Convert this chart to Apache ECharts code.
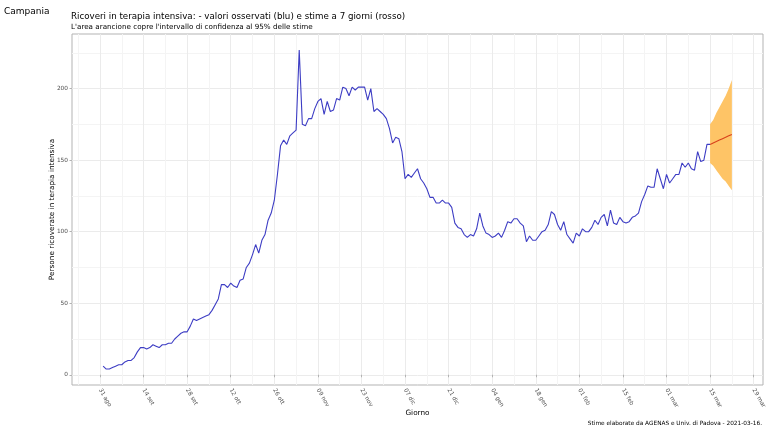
<!DOCTYPE html>
<html>
<head>
<meta charset="utf-8">
<title>Campania - ricoveri in terapia intensiva</title>
<script src="https://cdn.jsdelivr.net/npm/echarts@6/dist/echarts.min.js"></script>
<style>
  html, body { margin: 0; padding: 0; background: #fff; }
  #chart { width: 767px; height: 431px; }
</style>
</head>
<body>
<div id="chart"></div>
<script>
// valori osservati, un valore al giorno dal 1 settembre 2020 al 15 marzo 2021
var inizioOsservati = '2020-09-01';
var osservati = [
  6, 4, 4, 5, 6, 7, 7, 9, 10, 10,
  12, 16, 19, 19, 18, 19, 21, 20, 19, 21,
  21, 22, 22, 25, 27, 29, 30, 30, 34, 39,
  38, 39, 40, 41, 42, 45, 49, 53, 63, 63,
  61, 64, 62, 61, 66, 67, 75, 78, 84, 91,
  85, 94, 98, 108, 113, 122, 140, 160, 164, 161,
  167, 169, 171, 227, 175, 174, 179, 179, 186, 191,
  193, 182, 191, 184, 185, 193, 192, 201, 200, 195,
  201, 199, 201, 201, 201, 192, 200, 184, 186, 184,
  182, 179, 172, 162, 166, 165, 156, 137, 140, 138,
  141, 144, 137, 134, 130, 124, 124, 120, 120, 122,
  120, 120, 117, 106, 103, 102, 98, 96, 98, 97,
  102, 113, 104, 99, 98, 96, 97, 99, 96, 101,
  107, 106, 109, 109, 106, 104, 93, 97, 94, 94,
  97, 100, 101, 105, 114, 112, 105, 101, 107, 98,
  95, 92, 99, 97, 102, 100, 100, 103, 108, 105,
  110, 112, 104, 115, 106, 105, 110, 107, 106, 107,
  110, 111, 113, 121, 126, 132, 131, 131, 144, 137,
  130, 140, 134, 137, 140, 140, 148, 145, 148, 144,
  143, 156, 149, 150, 161, 161
];

// stime a 7 giorni e intervallo di confidenza al 95%
var inizioStime = '2021-03-15';
var stime = [161, 162, 163, 164, 165, 166, 167, 168];
var stimeInf = [148, 146, 143, 140, 137, 135, 132, 129];
var stimeSup = [175, 178, 183, 187, 191, 195, 200, 206];

// asse x: una categoria per giorno
var primoGiorno = '2020-08-22';
var ultimoGiorno = '2021-04-01';
var primaEtichetta = '2020-08-31';
var passoEtichette = 14;
var etichetteX = ['31 ago', '14 set', '28 set', '12 ott', '26 ott', '09 nov', '23 nov', '07 dic',
  '21 dic', '04 gen', '18 gen', '01 feb', '15 feb', '01 mar', '15 mar', '29 mar'];
var etichetteY = [0, 50, 100, 150, 200];

var titolo = 'Ricoveri in terapia intensiva: - valori osservati (blu) e stime a 7 giorni (rosso)';
var sottotitolo = "L'area arancione copre l'intervallo di confidenza al 95% delle stime";
var didascalia = 'Stime elaborate da AGENAS e Univ. di Padova - 2021-03-16.';

var font = 'DejaVu Sans';

function numGiorno(s) {
  var p = s.split('-');
  return Date.UTC(+p[0], +p[1] - 1, +p[2]) / 86400000;
}
function isoGiorno(n) {
  return new Date(n * 86400000).toISOString().slice(0, 10);
}

var giorni = [];
for (var g = numGiorno(primoGiorno); g <= numGiorno(ultimoGiorno); g++) {
  giorni.push(isoGiorno(g));
}

// mette i valori sulle categorie giornaliere, null fuori dall'intervallo
function allinea(valori, inizio) {
  var off = numGiorno(inizio) - numGiorno(primoGiorno);
  return giorni.map(function (d, i) {
    var k = i - off;
    return k >= 0 && k < valori.length ? valori[k] : null;
  });
}

function passo(value) {
  return numGiorno(value) - numGiorno(primaEtichetta);
}
function isEtichetta(index, value) {
  var k = passo(value);
  return k >= 0 && k % passoEtichette === 0 && k / passoEtichette < etichetteX.length;
}
function isMinore(index, value) {
  var k = passo(value);
  return ((k % passoEtichette) + passoEtichette) % passoEtichette === passoEtichette / 2;
}

var ampiezza = stimeSup.map(function (v, i) { return v - stimeInf[i]; });

function testo(size) {
  return { fontFamily: font, fontSize: size, fontWeight: 'normal', color: '#000' };
}

var options = {
  animation: false,
  textStyle: { fontFamily: font },
  title: [
    { text: 'Campania', left: 4, top: 7, padding: 0, textStyle: testo(9) },
    { text: titolo, left: 71, top: 12, padding: 0, textStyle: testo(8.7) },
    { text: sottotitolo, left: 71, top: 24, padding: 0, textStyle: testo(7.2) },
    { text: didascalia, right: 5, top: 420, padding: 0, textStyle: testo(5.8) }
  ],
  grid: {
    left: 72,
    right: 4,
    top: 34,
    bottom: 46,
    show: true,
    borderColor: '#b3b3b3',
    borderWidth: 1,
    outerBoundsMode: 'none'
  },
  xAxis: [
    {
      type: 'category',
      data: giorni,
      boundaryGap: false,
      name: 'Giorno',
      nameLocation: 'middle',
      nameGap: 25,
      nameMoveOverlap: false,
      nameTextStyle: { fontFamily: font, fontSize: 7.3, color: '#000' },
      axisLine: { show: false },
      axisTick: { show: true, interval: isEtichetta, length: 2.5, lineStyle: { color: '#b3b3b3' } },
      axisLabel: {
        interval: isEtichetta,
        rotate: -60,
        margin: 4,
        fontFamily: font,
        fontSize: 5.8,
        color: '#4d4d4d',
        formatter: function (value) {
          return etichetteX[passo(value) / passoEtichette] || '';
        }
      },
      splitLine: { show: true, interval: isEtichetta, lineStyle: { color: '#ebebeb', width: 1 } }
    },
    {
      // solo per le linee minori della griglia
      type: 'category',
      data: giorni,
      boundaryGap: false,
      position: 'top',
      axisLine: { show: false },
      axisTick: { show: false },
      axisLabel: { show: false },
      splitLine: { show: true, interval: isMinore, lineStyle: { color: '#f4f4f4', width: 1 } }
    }
  ],
  yAxis: {
    type: 'value',
    min: -7.15,
    max: 238.15,
    name: 'Persone ricoverate in terapia intensiva',
    nameLocation: 'middle',
    nameGap: 16,
    nameMoveOverlap: false,
    nameTextStyle: { fontFamily: font, fontSize: 7.3, color: '#000' },
    axisLine: { show: false },
    axisTick: { show: true, length: 2.5, customValues: etichetteY, lineStyle: { color: '#b3b3b3' } },
    axisLabel: {
      margin: 4,
      customValues: etichetteY,
      fontFamily: font,
      fontSize: 5.8,
      color: '#4d4d4d'
    },
    splitLine: { show: true, lineStyle: { color: '#ebebeb', width: 1 } },
    minorTick: { show: false, splitNumber: 2 },
    minorSplitLine: { show: true, lineStyle: { color: '#f4f4f4', width: 1 } }
  },
  series: [
    {
      name: 'inf',
      type: 'line',
      stack: 'ic',
      data: allinea(stimeInf, inizioStime),
      symbol: 'none',
      silent: true,
      lineStyle: { width: 0, opacity: 0 }
    },
    {
      name: 'ic95',
      type: 'line',
      stack: 'ic',
      data: allinea(ampiezza, inizioStime),
      symbol: 'none',
      silent: true,
      lineStyle: { width: 0, opacity: 0 },
      areaStyle: { color: '#fec466', opacity: 1 }
    },
    {
      name: 'osservati',
      type: 'line',
      data: allinea(osservati, inizioOsservati),
      symbol: 'none',
      lineStyle: { color: '#3d3dc4', width: 1.1 }
    },
    {
      name: 'stime',
      type: 'line',
      data: allinea(stime, inizioStime),
      symbol: 'none',
      lineStyle: { color: '#d8401c', width: 1.1 }
    }
  ]
};

var myChart = echarts.init(document.getElementById('chart'), null, { renderer: 'canvas' });
myChart.setOption(options);
</script>
</body>
</html>
